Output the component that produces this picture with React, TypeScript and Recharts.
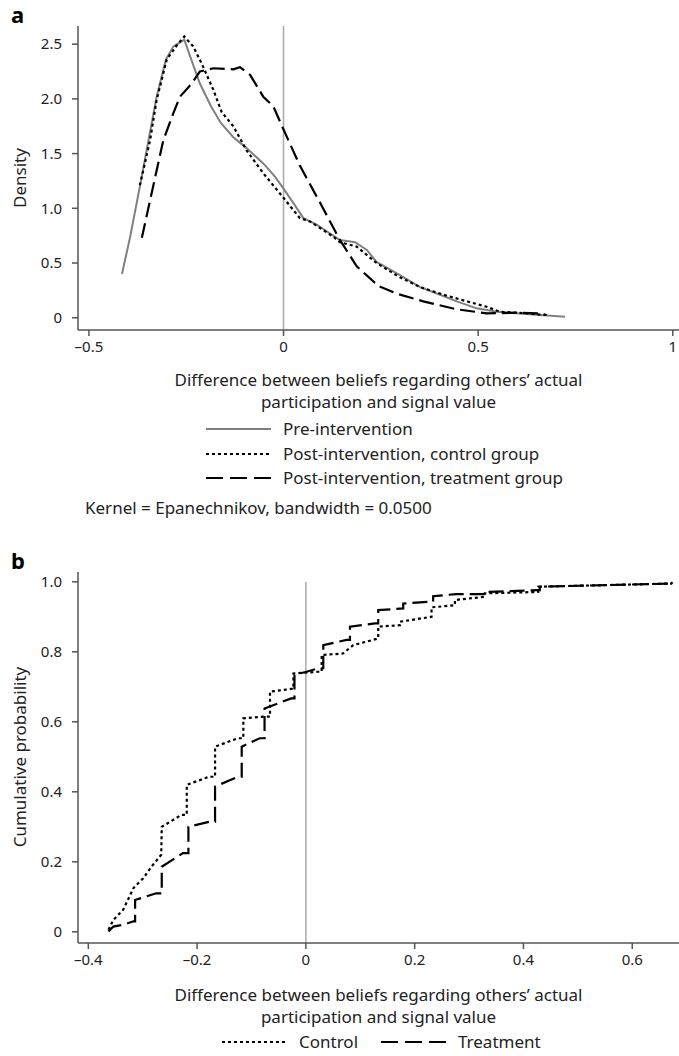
import { LineChart, Line, XAxis, YAxis, ReferenceLine } from "recharts";

// panel a: kernel densities
const preIntervention = [
  { x: -0.415, y: 0.4 }, { x: -0.394, y: 0.74 }, { x: -0.369, y: 1.2 }, { x: -0.326, y: 2.02 },
  { x: -0.302, y: 2.36 }, { x: -0.283, y: 2.48 }, { x: -0.255, y: 2.54 }, { x: -0.215, y: 2.14 },
  { x: -0.186, y: 1.93 }, { x: -0.161, y: 1.78 }, { x: -0.129, y: 1.65 }, { x: -0.095, y: 1.55 },
  { x: -0.052, y: 1.41 }, { x: -0.022, y: 1.29 }, { x: 0.0, y: 1.18 }, { x: 0.025, y: 1.05 },
  { x: 0.051, y: 0.91 }, { x: 0.085, y: 0.85 }, { x: 0.145, y: 0.71 }, { x: 0.184, y: 0.69 },
  { x: 0.214, y: 0.62 }, { x: 0.239, y: 0.51 }, { x: 0.299, y: 0.39 }, { x: 0.351, y: 0.28 },
  { x: 0.402, y: 0.21 }, { x: 0.445, y: 0.15 }, { x: 0.496, y: 0.086 }, { x: 0.548, y: 0.055 },
  { x: 0.599, y: 0.04 }, { x: 0.659, y: 0.025 }, { x: 0.723, y: 0.01 },
];

const postControl = [
  { x: -0.369, y: 1.21 }, { x: -0.343, y: 1.62 }, { x: -0.326, y: 1.99 }, { x: -0.3, y: 2.36 },
  { x: -0.274, y: 2.49 }, { x: -0.255, y: 2.57 }, { x: -0.232, y: 2.48 }, { x: -0.206, y: 2.29 },
  { x: -0.18, y: 2.08 }, { x: -0.159, y: 1.88 }, { x: -0.129, y: 1.75 }, { x: -0.095, y: 1.53 },
  { x: -0.052, y: 1.32 }, { x: -0.017, y: 1.17 }, { x: 0.008, y: 1.06 }, { x: 0.042, y: 0.91 },
  { x: 0.068, y: 0.88 }, { x: 0.128, y: 0.74 }, { x: 0.145, y: 0.69 }, { x: 0.188, y: 0.65 },
  { x: 0.239, y: 0.5 }, { x: 0.299, y: 0.37 }, { x: 0.351, y: 0.28 }, { x: 0.411, y: 0.21 },
  { x: 0.471, y: 0.15 }, { x: 0.522, y: 0.1 }, { x: 0.556, y: 0.055 }, { x: 0.625, y: 0.04 },
  { x: 0.672, y: 0.025 },
];

const postTreatment = [
  { x: -0.364, y: 0.73 }, { x: -0.335, y: 1.2 }, { x: -0.309, y: 1.62 }, { x: -0.283, y: 1.87 },
  { x: -0.266, y: 2.02 }, { x: -0.236, y: 2.14 }, { x: -0.215, y: 2.25 }, { x: -0.18, y: 2.28 },
  { x: -0.129, y: 2.27 }, { x: -0.112, y: 2.29 }, { x: -0.086, y: 2.22 }, { x: -0.052, y: 2.02 },
  { x: -0.026, y: 1.93 }, { x: 0.0, y: 1.72 }, { x: 0.042, y: 1.39 }, { x: 0.094, y: 1.05 },
  { x: 0.145, y: 0.71 }, { x: 0.188, y: 0.47 }, { x: 0.244, y: 0.29 }, { x: 0.291, y: 0.22 },
  { x: 0.359, y: 0.15 }, { x: 0.445, y: 0.077 }, { x: 0.522, y: 0.04 }, { x: 0.599, y: 0.046 },
  { x: 0.659, y: 0.04 }, { x: 0.676, y: 0.025 },
];

// panel b: cumulative distributions
const cdfControl = [
  { x: -0.363, y: 0.006 }, { x: -0.354, y: 0.034 }, { x: -0.336, y: 0.063 }, { x: -0.317, y: 0.125 },
  { x: -0.299, y: 0.153 }, { x: -0.284, y: 0.186 }, { x: -0.266, y: 0.22 }, { x: -0.265, y: 0.3 },
  { x: -0.229, y: 0.334 }, { x: -0.219, y: 0.334 }, { x: -0.219, y: 0.42 }, { x: -0.178, y: 0.443 },
  { x: -0.167, y: 0.443 }, { x: -0.167, y: 0.529 }, { x: -0.125, y: 0.553 }, { x: -0.115, y: 0.553 },
  { x: -0.115, y: 0.61 }, { x: -0.076, y: 0.615 }, { x: -0.066, y: 0.615 }, { x: -0.066, y: 0.686 },
  { x: -0.027, y: 0.694 }, { x: -0.023, y: 0.694 }, { x: -0.023, y: 0.738 }, { x: 0.023, y: 0.743 },
  { x: 0.029, y: 0.743 }, { x: 0.029, y: 0.791 }, { x: 0.068, y: 0.795 }, { x: 0.087, y: 0.819 },
  { x: 0.133, y: 0.838 }, { x: 0.133, y: 0.872 }, { x: 0.173, y: 0.876 }, { x: 0.173, y: 0.886 },
  { x: 0.231, y: 0.9 }, { x: 0.231, y: 0.927 }, { x: 0.274, y: 0.933 }, { x: 0.274, y: 0.948 },
  { x: 0.329, y: 0.957 }, { x: 0.329, y: 0.967 }, { x: 0.427, y: 0.971 }, { x: 0.427, y: 0.986 },
  { x: 0.672, y: 0.995 }, { x: 0.675, y: 1.0 },
];

const cdfTreatment = [
  { x: -0.363, y: 0.001 }, { x: -0.354, y: 0.015 }, { x: -0.336, y: 0.02 }, { x: -0.317, y: 0.03 },
  { x: -0.314, y: 0.03 }, { x: -0.314, y: 0.091 }, { x: -0.275, y: 0.11 }, { x: -0.265, y: 0.11 },
  { x: -0.265, y: 0.186 }, { x: -0.226, y: 0.225 }, { x: -0.216, y: 0.225 }, { x: -0.216, y: 0.3 },
  { x: -0.176, y: 0.315 }, { x: -0.167, y: 0.315 }, { x: -0.167, y: 0.415 }, { x: -0.125, y: 0.443 },
  { x: -0.118, y: 0.443 }, { x: -0.118, y: 0.529 }, { x: -0.085, y: 0.553 }, { x: -0.076, y: 0.553 },
  { x: -0.076, y: 0.638 }, { x: -0.027, y: 0.667 }, { x: -0.021, y: 0.667 }, { x: -0.021, y: 0.734 },
  { x: 0.001, y: 0.743 }, { x: 0.023, y: 0.753 }, { x: 0.032, y: 0.753 }, { x: 0.032, y: 0.819 },
  { x: 0.075, y: 0.834 }, { x: 0.081, y: 0.834 }, { x: 0.081, y: 0.872 }, { x: 0.127, y: 0.881 },
  { x: 0.133, y: 0.881 }, { x: 0.133, y: 0.919 }, { x: 0.179, y: 0.924 }, { x: 0.179, y: 0.938 },
  { x: 0.228, y: 0.943 }, { x: 0.234, y: 0.943 }, { x: 0.234, y: 0.959 }, { x: 0.277, y: 0.965 },
  { x: 0.329, y: 0.965 }, { x: 0.329, y: 0.971 }, { x: 0.427, y: 0.976 }, { x: 0.43, y: 0.976 },
  { x: 0.43, y: 0.986 }, { x: 0.672, y: 0.995 }, { x: 0.675, y: 1.0 },
];

const densityXTicks = [-0.5, 0, 0.5, 1];
const densityYTicks = [0, 0.5, 1, 1.5, 2, 2.5];
const cdfXTicks = [-0.4, -0.2, 0, 0.2, 0.4, 0.6];
const cdfYTicks = [0, 0.2, 0.4, 0.6, 0.8, 1];

const FONT = "'Noto Sans', 'Liberation Sans', sans-serif";
const AXIS = "#555";
const TEXT = "#222";
const DOT = "3 3";
const DASH = "15 6";

const tickStyle = { fill: TEXT, fontSize: 15, fontFamily: FONT };
const fmtX = (v: number) => (v < 0 ? "\u2013" + String(Math.abs(v)) : String(v));
const fmtY = (v: number) => (v === 0 ? "0" : v.toFixed(1));

const abs = (top: number, left: number, extra: any = {}) => ({
  position: "absolute" as const,
  top,
  left,
  fontFamily: FONT,
  color: TEXT,
  fontSize: 17,
  lineHeight: "20px",
  whiteSpace: "nowrap" as const,
  ...extra,
});

function Swatch({ color, dash }: { color: string; dash?: string }) {
  return (
    <svg width={65} height={6} style={{ display: "block" }}>
      <line x1={0} y1={3} x2={65} y2={3} stroke={color} strokeWidth={2.2} strokeDasharray={dash} />
    </svg>
  );
}

function LegendRow({ top, left, color, dash, label }: any) {
  return (
    <div style={abs(top, left, { display: "flex", alignItems: "center", gap: 12 })}>
      <Swatch color={color} dash={dash} />
      <span>{label}</span>
    </div>
  );
}

function AxisTitle({ top }: { top: number }) {
  return (
    <div style={abs(top, 78, { width: 601, textAlign: "center", whiteSpace: "normal", lineHeight: "22px" })}>
      Difference between beliefs regarding others{"\u2019"} actual
      <br />
      participation and signal value
    </div>
  );
}

export default function App() {
  return (
    <div style={{ position: "absolute", top: 0, left: 0, width: 679, height: 1056, background: "#fff" }}>
      <div style={abs(4, 11, { fontSize: 22, fontWeight: 700, color: "#000" })}>a</div>
      <div style={abs(0, 0)}>
        <LineChart width={679} height={380} margin={{ top: 26, right: 0, left: 0, bottom: 0 }}>
          <XAxis
            dataKey="x"
            type="number"
            domain={[-0.528, 1.016]}
            ticks={densityXTicks}
            tickFormatter={fmtX}
            height={50}
            stroke={AXIS}
            strokeWidth={1.5}
            tickSize={6}
            tickMargin={5}
            tick={tickStyle}
            allowDataOverflow
          />
          <YAxis
            dataKey="y"
            type="number"
            domain={[-0.112, 2.666]}
            ticks={densityYTicks}
            tickFormatter={fmtY}
            width={78}
            stroke={AXIS}
            strokeWidth={1.5}
            tickSize={6}
            tickMargin={10}
            tick={tickStyle}
            allowDataOverflow
          />
          <ReferenceLine x={0} stroke="#aaa" strokeWidth={1.5} />
          <Line data={preIntervention} dataKey="y" type="linear" stroke="#808080" strokeWidth={2} dot={false} isAnimationActive={false} />
          <Line data={postControl} dataKey="y" type="linear" stroke="#000" strokeWidth={2.2} strokeDasharray={DOT} dot={false} isAnimationActive={false} />
          <Line data={postTreatment} dataKey="y" type="linear" stroke="#000" strokeWidth={2.2} strokeDasharray={DASH} dot={false} isAnimationActive={false} />
        </LineChart>
      </div>
      <div style={abs(178, 20, { transform: "translate(-50%, -50%) rotate(-90deg)" })}>Density</div>
      <AxisTitle top={369} />
      <LegendRow top={419} left={206} color="#808080" label="Pre-intervention" />
      <LegendRow top={444} left={206} color="#000" dash={DOT} label="Post-intervention, control group" />
      <LegendRow top={468} left={206} color="#000" dash={"17 7"} label="Post-intervention, treatment group" />
      <div style={abs(498, 85)}>Kernel = Epanechnikov, bandwidth = 0.0500</div>

      <div style={abs(550, 11, { fontSize: 22, fontWeight: 700, color: "#000" })}>b</div>
      <div style={abs(540, 0)}>
        <LineChart width={679} height={440} margin={{ top: 32, right: 0, left: 0, bottom: 0 }}>
          <XAxis
            dataKey="x"
            type="number"
            domain={[-0.419, 0.686]}
            ticks={cdfXTicks}
            tickFormatter={fmtX}
            height={37}
            stroke={AXIS}
            strokeWidth={1.5}
            tickSize={6}
            tickMargin={5}
            tick={tickStyle}
            allowDataOverflow
          />
          <YAxis
            dataKey="y"
            type="number"
            domain={[-0.032, 1.028]}
            ticks={cdfYTicks}
            tickFormatter={fmtY}
            width={78}
            stroke={AXIS}
            strokeWidth={1.5}
            tickSize={6}
            tickMargin={10}
            tick={tickStyle}
            allowDataOverflow
          />
          <ReferenceLine segment={[{ x: 0, y: -0.032 }, { x: 0, y: 1 }]} stroke="#aaa" strokeWidth={1.5} />
          <Line data={cdfControl} dataKey="y" type="linear" stroke="#000" strokeWidth={2.2} strokeDasharray={DOT} dot={false} isAnimationActive={false} />
          <Line data={cdfTreatment} dataKey="y" type="linear" stroke="#000" strokeWidth={2.2} strokeDasharray={DASH} dot={false} isAnimationActive={false} />
        </LineChart>
      </div>
      <div style={abs(757, 20, { transform: "translate(-50%, -50%) rotate(-90deg)" })}>Cumulative probability</div>
      <AxisTitle top={984} />
      <LegendRow top={1032} left={222} color="#000" dash={DOT} label="Control" />
      <LegendRow top={1032} left={381} color="#000" dash={"17 7"} label="Treatment" />
    </div>
  );
}
